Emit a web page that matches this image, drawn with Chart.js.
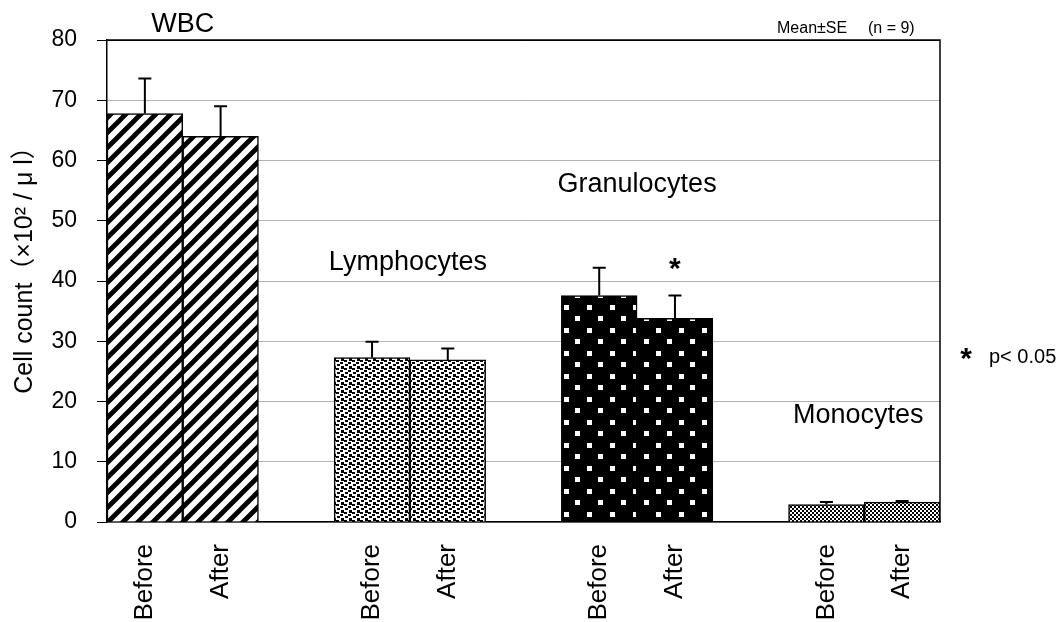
<!DOCTYPE html>
<html lang="en">
<head>
<meta charset="UTF-8">
<title>Cell count</title>
<script src="https://cdn.jsdelivr.net/npm/chart.js"></script>
<style>
  body, html { margin: 0; background: #fff; }
  .wrap { width: 1062px; height: 622px; }
</style>
</head>
<body>
<div class="wrap"><canvas id="cellChart"></canvas></div>
<script>
// data (x10^2 / ul)
const cellTypes = ['WBC', 'Lymphocytes', 'Granulocytes', 'Monocytes'];
const timepoints = ['Before', 'After'];
const beforeMean = [67.8, 27.3, 37.6, 2.9];
const afterMean = [64.0, 26.9, 33.8, 3.3];
const beforeSE = [5.8, 2.6, 4.6, 0.4];
const afterSE = [5.0, 1.9, 3.8, 0.2];
const significant = [false, false, true, false]; // * on the After bar

const FONT = "'Liberation Sans', Arial, 'Noto Sans CJK JP', sans-serif";

function tile(w, h, draw) {
  const c = document.createElement('canvas');
  c.width = w; c.height = h;
  const g = c.getContext('2d');
  draw(g, w, h);
  return document.createElement('canvas').getContext('2d').createPattern(c, 'repeat');
}

// fill patterns, one per cell type
const stripes = tile(15, 15, (g, s) => {
  g.fillStyle = '#fff'; g.fillRect(0, 0, s, s);
  g.strokeStyle = '#000'; g.lineWidth = 4.8; g.lineCap = 'square';
  g.beginPath();
  g.moveTo(0, s); g.lineTo(s, 0);
  g.moveTo(-2, 2); g.lineTo(2, -2);
  g.moveTo(s - 2, s + 2); g.lineTo(s + 2, s - 2);
  g.stroke();
});
const confetti = tile(8, 8, (g, s) => {
  g.fillStyle = '#fff'; g.fillRect(0, 0, s, s);
  g.fillStyle = '#000';
  [[0, 0], [4, 2], [1, 4], [5, 6]].forEach(p => g.fillRect(p[0], p[1], 3, 2));
  g.fillRect(5, 0, 3, 1);
});
const dots = tile(23, 23, (g, s) => {
  g.fillStyle = '#000'; g.fillRect(0, 0, s, s);
  g.fillStyle = '#fff';
  g.fillRect(12, 6, 5, 5);
  g.fillRect(0, 17, 5, 5);
  g.fillRect(23, 17, 5, 5);
});
const checker = tile(4, 4, (g, s) => {
  g.fillStyle = '#fff'; g.fillRect(0, 0, s, s);
  g.fillStyle = '#000';
  g.fillRect(0, 0, 2, 2); g.fillRect(2, 2, 2, 2);
});
const patterns = [stripes, confetti, dots, checker];

// spread the groups over category slots, with an empty slot between groups
const labels = [], means = [], errs = [], fills = [], groupOf = [];
cellTypes.forEach((t, g) => {
  if (g > 0) { labels.push(''); means.push(null); errs.push(null); fills.push('#fff'); groupOf.push(-1); }
  labels.push(timepoints[0], timepoints[1]);
  means.push(beforeMean[g], afterMean[g]);
  errs.push(beforeSE[g], afterSE[g]);
  fills.push(patterns[g], patterns[g]);
  groupOf.push(g, g);
});

const extrasPlugin = {
  id: 'extras',
  afterDatasetsDraw(chart) {
    const { ctx, chartArea: a, scales: { x, y } } = chart;
    const meta = chart.getDatasetMeta(0);
    ctx.save();
    // error bars (upper only)
    ctx.strokeStyle = '#000';
    ctx.lineWidth = 2;
    means.forEach((m, i) => {
      if (m == null) return;
      const bx = meta.data[i].x;
      const top = y.getPixelForValue(m + errs[i]);
      ctx.beginPath();
      ctx.moveTo(bx, meta.data[i].y);
      ctx.lineTo(bx, top);
      ctx.moveTo(bx - 6.5, top);
      ctx.lineTo(bx + 6.5, top);
      ctx.stroke();
    });
    // plot frame: top and right
    ctx.lineWidth = 1.5;
    ctx.beginPath();
    ctx.moveTo(a.left, a.top);
    ctx.lineTo(a.right, a.top);
    ctx.lineTo(a.right, a.bottom);
    ctx.stroke();
    ctx.restore();
  },
  afterDraw(chart) {
    const { ctx, scales: { x, y } } = chart;
    const meta = chart.getDatasetMeta(0);
    ctx.save();
    ctx.fillStyle = '#000';
    ctx.textAlign = 'center';
    ctx.textBaseline = 'middle';
    // group names
    const nameY = [82.6, 43.0, 56.0, 17.6];
    const nameDx = [0, -2, 0, -6];
    ctx.font = '27px ' + FONT;
    cellTypes.forEach((t, g) => {
      const i = groupOf.indexOf(g);
      const cx = (meta.data[i].x + meta.data[i + 1].x) / 2 + nameDx[g];
      ctx.fillText(t, cx, y.getPixelForValue(nameY[g]));
    });
    // significance marks
    ctx.font = 'bold 30px ' + FONT;
    ctx.textBaseline = 'alphabetic';
    significant.forEach((s, g) => {
      if (!s) return;
      const i = groupOf.indexOf(g) + 1;
      ctx.fillText('*', meta.data[i].x, y.getPixelForValue(43) + 15);
    });
    ctx.fillText('*', 966, 368);
    ctx.textAlign = 'left';
    ctx.font = '20px ' + FONT;
    ctx.fillText('p< 0.05', 989, 363);
    ctx.font = '16px ' + FONT;
    ctx.fillText('Mean\u00b1SE', 777, 33);
    ctx.fillText('(n = 9)', 868, 33);
    // y axis title
    ctx.translate(25, 264);
    ctx.rotate(-Math.PI / 2);
    ctx.textAlign = 'center';
    ctx.textBaseline = 'middle';
    ctx.font = '25px ' + FONT;
    ctx.fillText('Cell count\uff08\u00d710\u00b2 / \u03bc l\uff09', 0, 0);
    ctx.restore();
  }
};

new Chart(document.getElementById('cellChart'), {
  type: 'bar',
  data: {
    labels: labels,
    datasets: [{
      data: means,
      backgroundColor: fills,
      borderColor: '#000',
      borderWidth: 1.5,
      barPercentage: 1,
      categoryPercentage: 1
    }]
  },
  options: {
    responsive: true,
    maintainAspectRatio: false,
    animation: false,
    layout: { padding: { top: 40, right: 122, left: 0, bottom: 0 } },
    plugins: { legend: { display: false }, tooltip: { enabled: false } },
    scales: {
      x: {
        offset: true,
        grid: { display: false, drawTicks: false },
        border: { color: '#000', width: 1.5 },
        ticks: {
          autoSkip: false, minRotation: 90, maxRotation: 90, padding: 22,
          color: '#000', font: { family: FONT, size: 26 }
        },
        afterFit(s) { s.height = 100; }
      },
      y: {
        min: 0, max: 80,
        ticks: { stepSize: 10, padding: 20, color: '#000', font: { family: FONT, size: 23 } },
        grid: {
          color: c => (c.tick && c.tick.value === 80) ? '#000' : '#b3b3b3',
          tickColor: '#000', tickLength: 10, lineWidth: 1
        },
        border: { color: '#000', width: 1.5 },
        afterFit(s) { s.width = 107; }
      }
    }
  },
  plugins: [extrasPlugin]
});
</script>
</body>
</html>
